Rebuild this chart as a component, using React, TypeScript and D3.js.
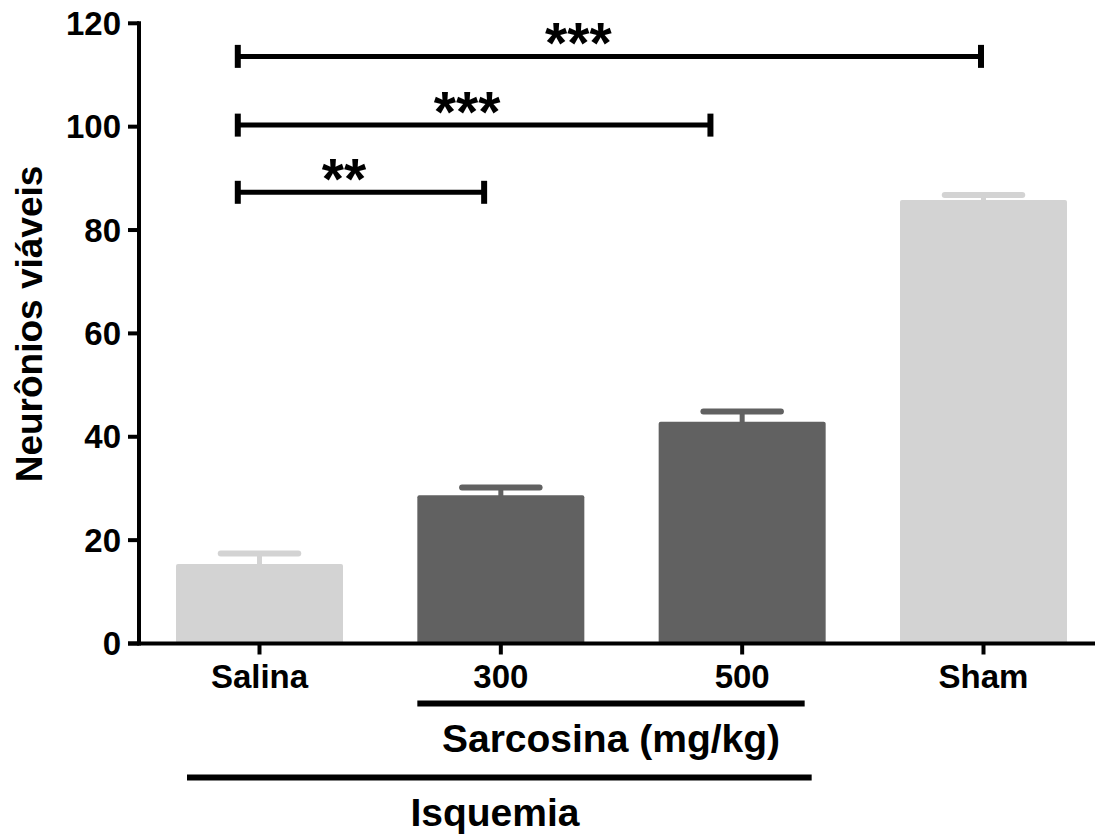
import React from "react";
import * as d3 from "d3";

const categories = ["Salina", "300", "500", "Sham"];
const means = [15.4, 28.7, 42.9, 85.8];
const errors = [2.0, 1.5, 2.0, 1.0];
const barColors = ["#d3d3d3", "#616161", "#616161", "#d3d3d3"];
const yTicks = [0, 20, 40, 60, 80, 100, 120];

// significance brackets: from/to category with position inside the band (0..1)
const brackets = [
  { from: "Salina", fromPos: 0.37, to: "Sham", toPos: 0.485, y: 113.6, label: "***", labelShift: -31 },
  { from: "Salina", fromPos: 0.37, to: "500", toPos: 0.31, y: 100.3, label: "***", labelShift: -7 },
  { from: "Salina", fromPos: 0.37, to: "300", toPos: 0.4, y: 87.3, label: "**", labelShift: -17 },
];

const yTitle = "Neurônios viáveis";
const groupLabel1 = "Sarcosina (mg/kg)";
const groupLabel2 = "Isquemia";

const W = 1095;
const H = 834;
const FONT = "'Liberation Sans', Arial, Helvetica, sans-serif";

export default function App() {
  const x = d3.scaleBand<string>().domain(categories).range([176, 1067]).paddingInner(0.308).paddingOuter(0);
  const y = d3.scaleLinear().domain([0, 120]).range([643.5, 23.3]);
  const bw = x.bandwidth();
  const axisX = 139;
  const y0 = y(0);

  return (
    <svg width={W} height={H} style={{ position: "absolute", left: 0, top: 0, background: "#fff" }} fontFamily={FONT} fontWeight="bold">
      {/* bars */}
      {categories.map((c, i) => {
        const bx = x(c)!;
        const cx = bx + bw / 2;
        const top = y(means[i]);
        const etop = y(means[i] + errors[i]);
        return (
          <g key={c}>
            <rect x={bx} y={top} width={bw} height={y0 - top} fill={barColors[i]} rx={2} />
            <line x1={cx} x2={cx} y1={top + 1} y2={etop} stroke={barColors[i]} strokeWidth={5} />
            <rect x={cx - bw / 4} y={etop - 3} width={bw / 2} height={6} rx={3} fill={barColors[i]} />
          </g>
        );
      })}

      {/* y axis */}
      <line x1={axisX} x2={axisX} y1={y(120) - 2} y2={y0 + 2} stroke="#000" strokeWidth={4} />
      {yTicks.map((t) => (
        <g key={t}>
          <line x1={128} x2={axisX} y1={y(t)} y2={y(t)} stroke="#000" strokeWidth={4} />
          <text x={121} y={y(t)} dy="0.35em" textAnchor="end" fontSize={33}>
            {t}
          </text>
        </g>
      ))}

      {/* x axis */}
      <line x1={128} x2={W} y1={y0} y2={y0} stroke="#000" strokeWidth={4} />
      {categories.map((c) => {
        const cx = x(c)! + bw / 2;
        return (
          <g key={"t" + c}>
            <line x1={cx} x2={cx} y1={y0} y2={y0 + 11} stroke="#000" strokeWidth={4} />
            <text x={cx} y={688} textAnchor="middle" fontSize={33}>
              {c}
            </text>
          </g>
        );
      })}

      {/* group lines */}
      <line x1={x("300")!} x2={x("500")! + bw - 21} y1={703.5} y2={703.5} stroke="#000" strokeWidth={6} />
      <text x={(x("300")! + x("500")! + bw - 21) / 2} y={752} textAnchor="middle" fontSize={39}>
        {groupLabel1}
      </text>
      <line x1={x("Salina")! + 11} x2={x("500")! + bw - 14} y1={777.5} y2={777.5} stroke="#000" strokeWidth={6} />
      <text x={495} y={826} textAnchor="middle" fontSize={39}>
        {groupLabel2}
      </text>

      {/* y title */}
      <text transform={`translate(42,324) rotate(-90)`} textAnchor="middle" fontSize={37}>
        {yTitle}
      </text>

      {/* brackets */}
      {brackets.map((b, i) => {
        const x1 = x(b.from)! + bw * b.fromPos;
        const x2 = x(b.to)! + bw * b.toPos;
        const by = y(b.y);
        return (
          <g key={"b" + i}>
            <line x1={x1} x2={x2} y1={by} y2={by} stroke="#000" strokeWidth={5} />
            <line x1={x1} x2={x1} y1={by - 11.5} y2={by + 11.5} stroke="#000" strokeWidth={6} />
            <line x1={x2} x2={x2} y1={by - 11.5} y2={by + 11.5} stroke="#000" strokeWidth={6} />
            <text x={(x1 + x2) / 2 + b.labelShift} y={by + 7} textAnchor="middle" fontSize={57}>
              {b.label}
            </text>
          </g>
        );
      })}
    </svg>
  );
}
